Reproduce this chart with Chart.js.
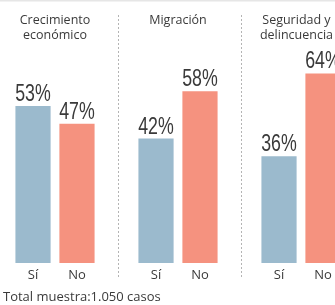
<!DOCTYPE html>
<html>
<head>
<meta charset="utf-8">
<script src="https://cdn.jsdelivr.net/npm/chart.js@4/dist/chart.umd.min.js"></script>
<style>
  html, body { margin: 0; padding: 0; background: #ffffff; }
  #wrap { width: 335px; height: 305px; position: relative; }
</style>
</head>
<body>
<div id="wrap"><canvas id="c" width="335" height="305"></canvas></div>
<script>
const categories = [["Crecimiento", "económico"], ["Migración"], ["Seguridad y", "delincuencia"]];
const seriesNames = ["Sí", "No"];
const siValues = [53, 42, 36];
const noValues = [47, 58, 64];
const footnote = "Total muestra:1.050 casos";

const BLUE = "#9bbacd";
const SALMON = "#f5927f";
const TEXT = "#3a3a3a";

const decorPlugin = {
  id: "decor",
  beforeDatasetsDraw(chart) {
    const ctx = chart.ctx;
    const xs = chart.scales.x;
    ctx.save();
    ctx.fillStyle = "#e6e6e6";
    ctx.fillRect(0, 0, chart.width, 1.5);
    ctx.strokeStyle = "#b4b4b4";
    ctx.lineWidth = 1;
    ctx.setLineDash([2, 2]);
    for (let i = 0; i < categories.length - 1; i++) {
      const mx = Math.round((xs.getPixelForValue(i) + xs.getPixelForValue(i + 1)) / 2) + 1.5;
      ctx.beginPath();
      ctx.moveTo(mx, 15);
      ctx.lineTo(mx, 277);
      ctx.stroke();
    }
    ctx.setLineDash([]);
    ctx.fillStyle = TEXT;
    ctx.font = "12.5px 'Open Sans'";
    ctx.textAlign = "center";
    ctx.textBaseline = "middle";
    categories.forEach((lines, i) => {
      let cx = xs.getPixelForValue(i);
      const w = Math.max(...lines.map(l => ctx.measureText(l).width));
      cx = Math.min(cx, chart.width - w / 2 - 2);
      lines.forEach((ln, j) => ctx.fillText(ln, cx, 20 + j * 15));
    });
    ctx.textAlign = "left";
    ctx.font = "13px 'Open Sans'";
    ctx.fillText(footnote, 3, 297);
    ctx.restore();
  },
  afterDatasetsDraw(chart) {
    const ctx = chart.ctx;
    ctx.save();
    chart.data.datasets.forEach((ds, di) => {
      const meta = chart.getDatasetMeta(di);
      meta.data.forEach((bar, i) => {
        ctx.save();
        ctx.translate(bar.x, bar.y - 5);
        ctx.scale(0.74, 1);
        ctx.fillStyle = TEXT;
        ctx.font = "24px 'Liberation Sans Narrow', 'Liberation Sans'";
        ctx.textAlign = "center";
        ctx.textBaseline = "alphabetic";
        ctx.fillText(ds.data[i] + "%", 0, 0);
        ctx.restore();
        ctx.fillStyle = TEXT;
        ctx.font = "13px 'Open Sans'";
        ctx.textAlign = "center";
        ctx.textBaseline = "middle";
        ctx.fillText(ds.label, bar.x, 275);
      });
    });
    ctx.restore();
  }
};

new Chart(document.getElementById("c"), {
  type: "bar",
  data: {
    labels: categories.map(c => c.join(" ")),
    datasets: [
      { label: seriesNames[0], data: siValues, backgroundColor: BLUE, clip: false },
      { label: seriesNames[1], data: noValues, backgroundColor: SALMON, clip: false }
    ]
  },
  options: {
    responsive: false,
    animation: false,
    devicePixelRatio: 1,
    layout: { padding: { left: 55, right: 34, top: 26, bottom: 42 } },
    categoryPercentage: 0.715,
    barPercentage: 0.8,
    scales: {
      x: { display: false, offset: false },
      y: { display: false, min: 0, max: 80 }
    },
    plugins: { legend: { display: false }, tooltip: { enabled: false } }
  },
  plugins: [decorPlugin]
});
</script>
</body>
</html>
